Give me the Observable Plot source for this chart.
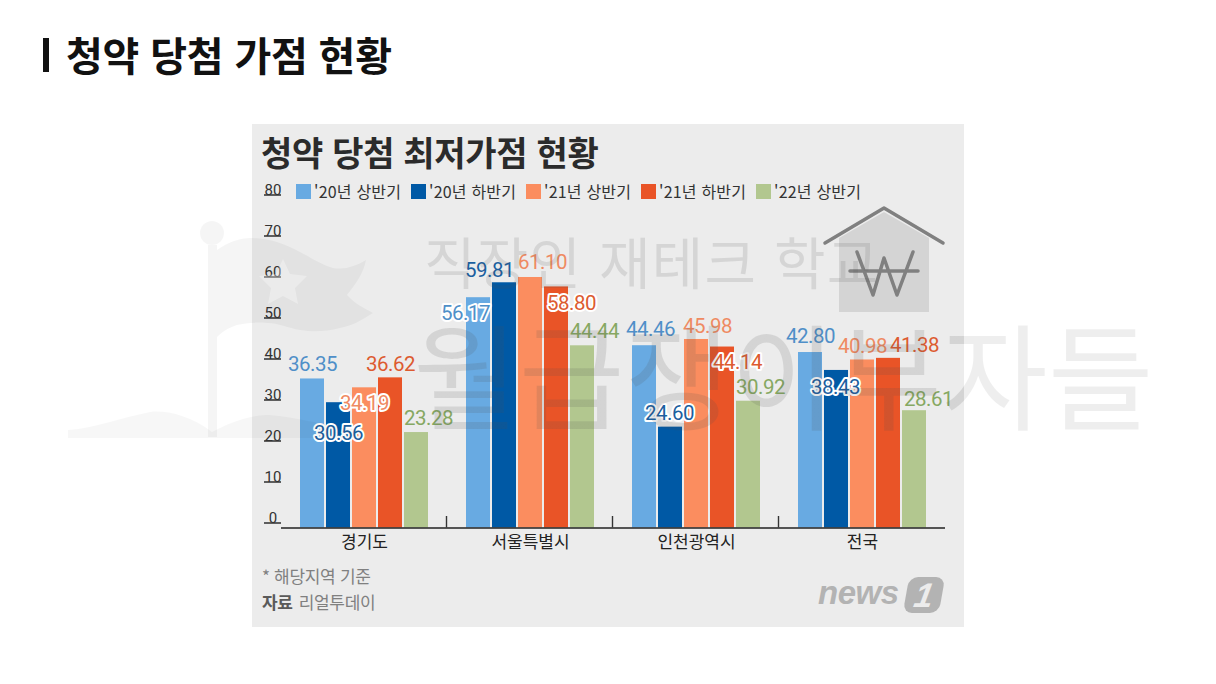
<!DOCTYPE html>
<html lang="ko"><head><meta charset="utf-8">
<script src="https://cdn.jsdelivr.net/npm/d3@7"></script>
<script src="https://cdn.jsdelivr.net/npm/@observablehq/plot@0.6"></script>
<style>
html,body{margin:0;padding:0;background:#fff;width:1216px;height:684px;overflow:hidden;font-family:"Noto Sans CJK KR","Noto Sans",sans-serif}
.abs{position:absolute;white-space:nowrap}
#pagebar{left:43px;top:38px;width:6px;height:34px;background:#111}
#pagetitle{left:66px;top:26px;font-size:40px;font-weight:700;line-height:56px;color:#111;letter-spacing:-.2px}
#box{left:252px;top:124px;width:712px;height:503px;background:#ececec}
#boxtitle{left:261px;top:127px;font-size:34px;font-weight:700;line-height:50px;color:#2b2b2b;letter-spacing:-.3px}
#legend{left:296px;top:180px;display:flex}
.item{width:115px;display:flex;align-items:center;font-size:16px;color:#333;line-height:22px;letter-spacing:.2px}
.sw{width:15px;height:15px;margin-right:3px;flex:none}
#chart{left:252px;top:124px}
#note{left:262px;top:564px;font-size:17px;line-height:24px;color:#808080;letter-spacing:-.3px}
#src{left:262px;top:590px;font-size:17px;line-height:24px;color:#808080;letter-spacing:-.3px}
#src b{color:#5a5a5a;margin-right:6px}
#news{left:818px;top:574px;font:italic 700 33px/38px "Liberation Sans",sans-serif;color:#b3b3b3;letter-spacing:-.5px}
#one{left:906px;top:577px;width:36px;height:36px;border-radius:9px;background:#b3b3b3;transform:skewX(-10deg);color:#ececec;font:italic 700 34px/36px "Liberation Sans",sans-serif;text-align:center}
.wm{pointer-events:none}
#wm1{left:424px;top:222px;font-size:56px;line-height:76px;font-weight:400;color:rgba(80,80,80,.14);letter-spacing:1.2px}
#wm2{left:413px;top:296px;font-size:115px;line-height:150px;font-weight:400;letter-spacing:0;color:transparent;
  background:linear-gradient(90deg,rgba(80,80,80,.15) 551px,rgba(0,0,0,.065) 551px);-webkit-background-clip:text;background-clip:text}
#deco{left:0;top:0;pointer-events:none}
</style></head><body>
<div class="abs" id="pagebar"></div>
<div class="abs" id="pagetitle">청약 당첨 가점 현황</div>
<div class="abs" id="box"></div>
<div class="abs" id="boxtitle">청약 당첨 최저가점 현황</div>
<div class="abs" id="legend"></div>
<div class="abs" id="chart"></div>
<div class="abs" id="note">* 해당지역 기준</div>
<div class="abs" id="src"><b>자료</b>리얼투데이</div>
<div class="abs" id="news">news</div>
<div class="abs" id="one">1</div>
<svg class="abs" id="deco" width="1216" height="684" viewBox="0 0 1216 684">
  <g fill="rgba(0,0,0,.04)">
    <circle cx="212" cy="233" r="12"/>
    <rect x="208" y="245" width="9" height="192"/>
    <path d="M217 250C228 242 240 238 250 238C270 238 285 244 300 252C312 258 322 265 333 268C345 270 356 266 366 260C364 272 356 284 347 295C354 303 364 308 373 313C362 320 352 326 340 328C326 332 312 332 300 330C288 328 278 323 267 323C256 322 246 323 237 325C228 328 222 332 217 337Z"/>
  </g>
  <path d="M283 259l7 15 17 2-12 12 3 16-15-8-15 8 3-16-12-12 17-2z" fill="rgba(255,255,255,.33)"/>
  <g fill="rgba(0,0,0,.03)">
    <path d="M212 432C190 415 165 410 150 412C120 418 95 428 68 430L68 438L360 438L360 430C320 425 290 415 265 415C245 416 225 425 212 432Z"/>
  </g>
  <path d="M839 238L884 212L929 238V312H839Z" fill="rgba(120,120,120,.2)"/>
  <g fill="none" stroke="#808080" stroke-width="3.5" stroke-linecap="round" stroke-linejoin="round">
    <path d="M825 243L884 208L943 243"/>
    <path d="M857 252L873 295L884 258L897 295L913 252M850 271H918"/>
  </g>
</svg>
<div class="abs wm" id="wm1">직장인 재테크 학교</div>
<div class="abs wm" id="wm2">월급쟁이부자들</div>
<script>
const regions = ["경기도", "서울특별시", "인천광역시", "전국"];
const periods = ["'20년 상반기", "'20년 하반기", "'21년 상반기", "'21년 하반기", "'22년 상반기"];
const values = [
  [36.35, 30.56, 34.19, 36.62, 23.28],
  [56.17, 59.81, 61.10, 58.80, 44.44],
  [44.46, 24.60, 45.98, 44.14, 30.92],
  [42.80, 38.43, 40.98, 41.38, 28.61]
];
const barColors = ["#68aae2", "#0059a5", "#fb8d5f", "#e95427", "#b2c78f"];
const textColors = ["#4f8fc8", "#1c5f9f", "#ef8a62", "#dd5b30", "#86a862"];
const yTicks = [0, 10, 20, 30, 40, 50, 60, 70, 80];
// hand-placed label nudges of the original graphic
const labelDx = [[0,0,0,0,12],[-13,-15,12,15,12],[6,-1,11,15,12],[0,-1,0,26,14]];
const labelDy = [[-15,31,16,-13,-14],[16,-12,-15,17,-14],[-16,-14,-13,15,-14],[-16,17,-14,-13,-11]];
const halo = new Set(["30.56","34.19","56.17","58.80","24.60","44.14","38.43"]);

const rows = regions.flatMap((region, i) => periods.map((period, j) => ({
  region, period, value: values[i][j], text: values[i][j].toFixed(2),
  tc: textColors[j], dx: labelDx[i][j], dy: labelDy[i][j]
})));

const legend = document.getElementById("legend");
periods.forEach((p, j) => {
  const it = document.createElement("div"); it.className = "item";
  const sw = document.createElement("span"); sw.className = "sw"; sw.style.background = barColors[j];
  it.append(sw, document.createTextNode(p)); legend.append(it);
});

const font = "Roboto, sans-serif";
const plot = Plot.plot({
  width: 712, height: 503,
  marginLeft: 29, marginRight: 19, marginTop: 75.5, marginBottom: 99.5,
  style: {background: "transparent", overflow: "visible"},
  fx: {domain: regions, padding: 0, axis: null},
  x: {domain: periods, paddingInner: 0.087, paddingOuter: 0.675, axis: null},
  y: {domain: [0, 80], axis: null},
  color: {domain: periods, range: barColors},
  marks: [
    Plot.barY(rows, {fx: "region", x: "period", y: "value", fill: "period"}),
    Plot.ruleY([0], {stroke: "#222", strokeWidth: 1.6}),
    Plot.ruleX(regions.slice(0, 3), {fx: d => d, x: () => periods[4], y1: 0, y2: 2.8, dx: 30, stroke: "#333", strokeWidth: 1.4}),
    Plot.axisY(yTicks, {anchor: "left", label: null, tickSize: 17, tickPadding: -8.5, textAnchor: "middle", lineAnchor: "bottom", dy: -5,
      stroke: "#222", strokeWidth: 1.4, fontSize: 15, fill: "#333", fontFamily: font}),
    Plot.axisFx({anchor: "bottom", label: null, tickSize: 0, tickPadding: 8, fontSize: 17, fill: "#222",
      fontFamily: "'Noto Sans CJK KR'", lineAnchor: "top"}),
    ...rows.map(r => Plot.text([r], {
      fx: "region", x: "period", y: "value", text: "text",
      dx: r.dx, dy: r.dy, fill: r.tc, fontSize: 20.5, fontFamily: font, lineAnchor: "middle",
      ...(halo.has(r.text) ? {stroke: "#fff", strokeWidth: 4} : {})
    }))
  ]
});
plot.querySelectorAll("text").forEach(t => { if (/^\d+\.\d+$/.test(t.textContent)) t.style.letterSpacing = "-0.5px"; });
document.getElementById("chart").append(plot);
</script>
</body></html>
